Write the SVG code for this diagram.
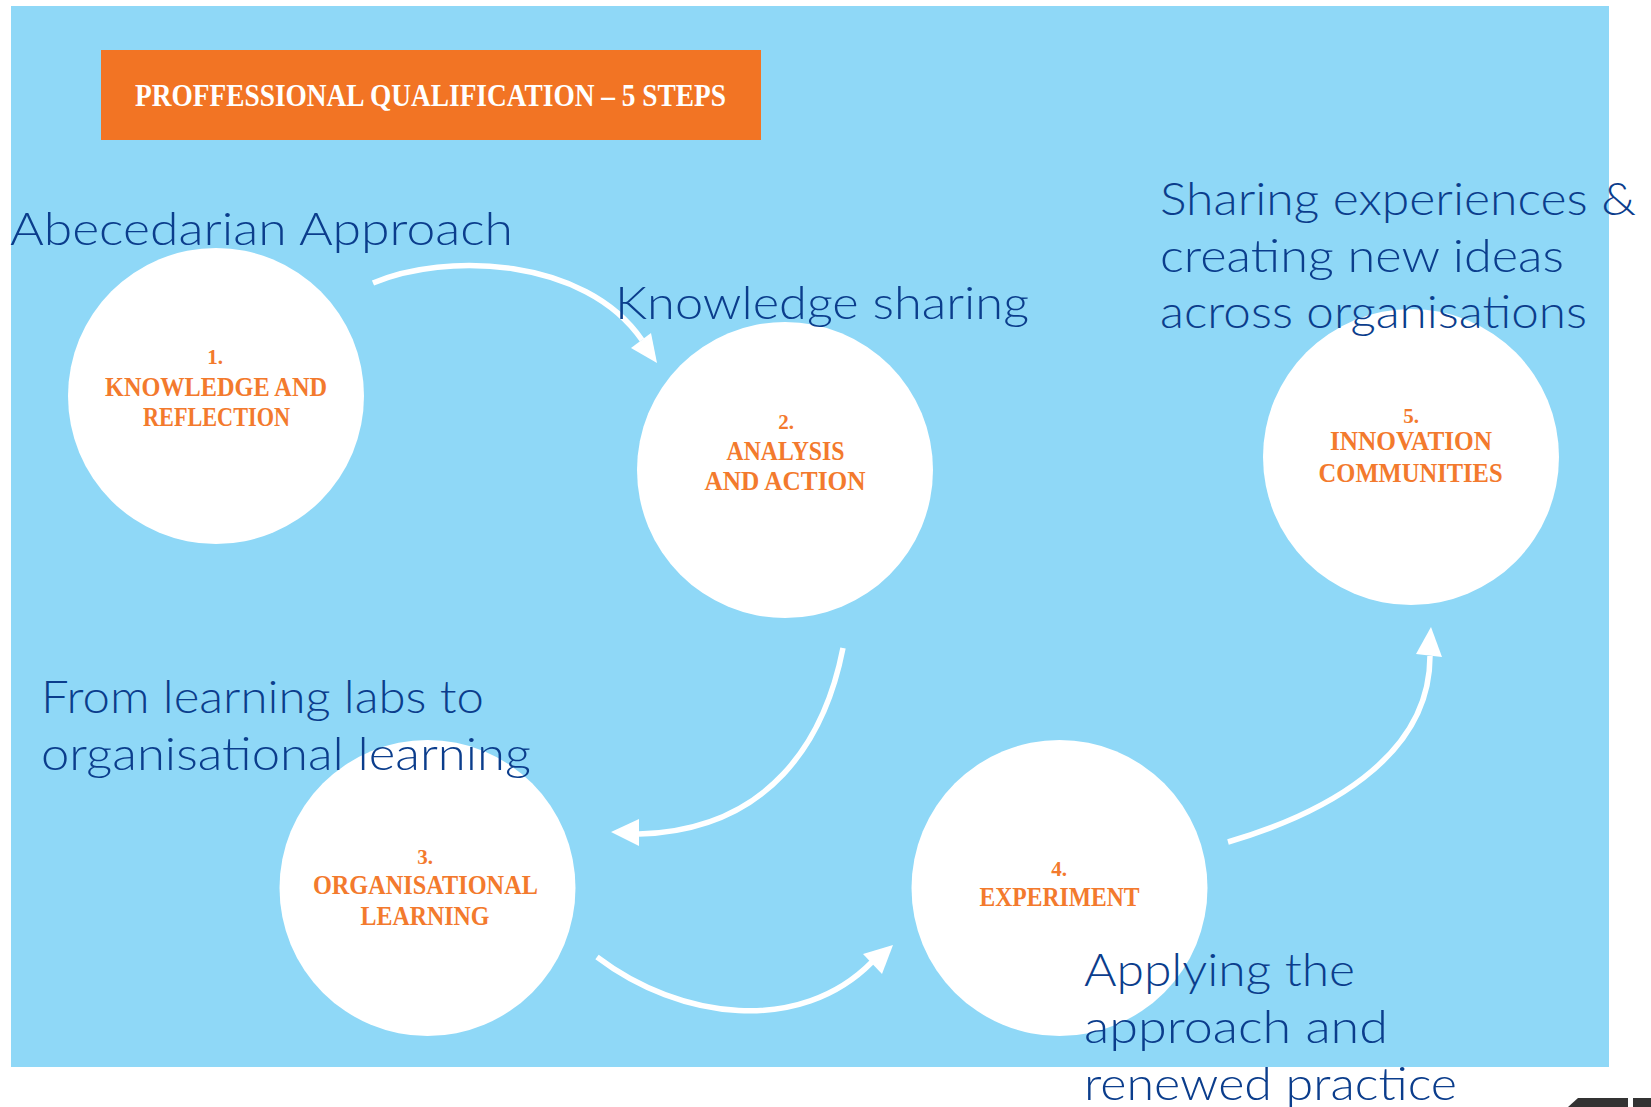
<svg xmlns="http://www.w3.org/2000/svg" width="1651" height="1107" viewBox="0 0 1651 1107">
  <style>
    .bg { fill: #8fd8f7; }
    .node circle { fill: #ffffff; }
    .num { font-family: "Liberation Serif", "DejaVu Serif", serif; font-weight: bold; font-size: 21px; fill: #f37a2d; text-anchor: middle; }
    .lbl { font-family: "Liberation Serif", "DejaVu Serif", serif; font-weight: bold; font-size: 27px; fill: #f37a2d; text-anchor: middle; }
    .title { font-family: "Liberation Serif", "DejaVu Serif", serif; font-weight: bold; font-size: 32px; fill: #ffffff; }
    .note { font-family: "Lato", "Noto Sans", "DejaVu Sans", sans-serif; font-weight: 300; font-size: 46px; fill: #0b3d8c; }
    .link { fill: none; stroke: #ffffff; stroke-width: 5.5; stroke-linecap: butt; }
    .head { fill: #ffffff; }
  </style>

  <!-- page background -->
  <rect x="0" y="0" width="1651" height="1107" fill="#ffffff"/>
  <rect class="bg" x="11" y="6" width="1598" height="1061"/>

  <!-- title banner -->
  <g id="title">
    <rect x="101" y="50" width="660" height="90" fill="#f27424"/>
    <text class="title" x="135" y="106" textLength="591" lengthAdjust="spacingAndGlyphs">PROFFESSIONAL QUALIFICATION – 5 STEPS</text>
  </g>

  <!-- steps -->
  <g id="step1" class="node">
    <circle cx="216" cy="396" r="148"/>
    <text class="num" x="215" y="364">1.</text>
    <text class="lbl" x="216" y="396" textLength="222" lengthAdjust="spacingAndGlyphs">KNOWLEDGE AND</text>
    <text class="lbl" x="216.5" y="426" textLength="147" lengthAdjust="spacingAndGlyphs">REFLECTION</text>
  </g>
  <g id="step2" class="node">
    <circle cx="785" cy="470" r="148"/>
    <text class="num" x="786" y="429">2.</text>
    <text class="lbl" x="785.5" y="460" textLength="118" lengthAdjust="spacingAndGlyphs">ANALYSIS</text>
    <text class="lbl" x="785" y="490" textLength="161" lengthAdjust="spacingAndGlyphs">AND ACTION</text>
  </g>
  <g id="step3" class="node">
    <circle cx="427.5" cy="888" r="148"/>
    <text class="num" x="425" y="864">3.</text>
    <text class="lbl" x="425.4" y="893.5" textLength="225" lengthAdjust="spacingAndGlyphs">ORGANISATIONAL</text>
    <text class="lbl" x="425" y="925" textLength="129" lengthAdjust="spacingAndGlyphs">LEARNING</text>
  </g>
  <g id="step4" class="node">
    <circle cx="1059.5" cy="888" r="148"/>
    <text class="num" x="1059" y="876">4.</text>
    <text class="lbl" x="1059.5" y="906" textLength="160" lengthAdjust="spacingAndGlyphs">EXPERIMENT</text>
  </g>
  <g id="step5" class="node">
    <circle cx="1411" cy="457" r="148"/>
    <text class="num" x="1411" y="423">5.</text>
    <text class="lbl" x="1411" y="450" textLength="162" lengthAdjust="spacingAndGlyphs">INNOVATION</text>
    <text class="lbl" x="1410.6" y="482" textLength="184" lengthAdjust="spacingAndGlyphs">COMMUNITIES</text>
  </g>

  <!-- connectors -->
  <g id="connectors">
    <path class="link" d="M373,283 C445,252 585,257 642,340"/>
    <polygon class="head" points="657,363 631,348 651,333"/>

    <path class="link" d="M843,648 C825,740 770,830 639,834"/>
    <polygon class="head" points="611,832 639,819 639,846"/>

    <path class="link" d="M597,957 C680,1020 800,1035 872,962"/>
    <polygon class="head" points="893,945 863,954 882,974"/>

    <path class="link" d="M1228,842 C1320,815 1430,760 1430,656"/>
    <polygon class="head" points="1431,627 1416,654 1442,657"/>
  </g>

  <!-- annotations -->
  <g id="annotations">
    <text class="note" x="10" y="245" textLength="503" lengthAdjust="spacingAndGlyphs">Abecedarian Approach</text>
    <text class="note" x="615" y="319" textLength="414" lengthAdjust="spacingAndGlyphs">Knowledge sharing</text>
    <text class="note" x="1160" y="215" textLength="476" lengthAdjust="spacingAndGlyphs">Sharing experiences &amp;</text>
    <text class="note" x="1160" y="272" textLength="404" lengthAdjust="spacingAndGlyphs">creating new ideas</text>
    <text class="note" x="1160" y="328" textLength="427" lengthAdjust="spacingAndGlyphs">across organisations</text>
    <text class="note" x="41" y="713" textLength="443" lengthAdjust="spacingAndGlyphs">From learning labs to</text>
    <text class="note" x="41" y="770" textLength="490" lengthAdjust="spacingAndGlyphs">organisational learning</text>
    <text class="note" x="1084" y="986" textLength="271" lengthAdjust="spacingAndGlyphs">Applying the</text>
    <text class="note" x="1084" y="1043" textLength="304" lengthAdjust="spacingAndGlyphs">approach and</text>
    <text class="note" x="1084" y="1100" textLength="373" lengthAdjust="spacingAndGlyphs">renewed practice</text>
  </g>

  <!-- corner mark -->
  <g id="corner-mark" fill="#333333">
    <polygon points="1568,1107 1578,1098 1628,1098 1628,1107"/>
    <rect x="1633" y="1098" width="18" height="9"/>
  </g>
</svg>
